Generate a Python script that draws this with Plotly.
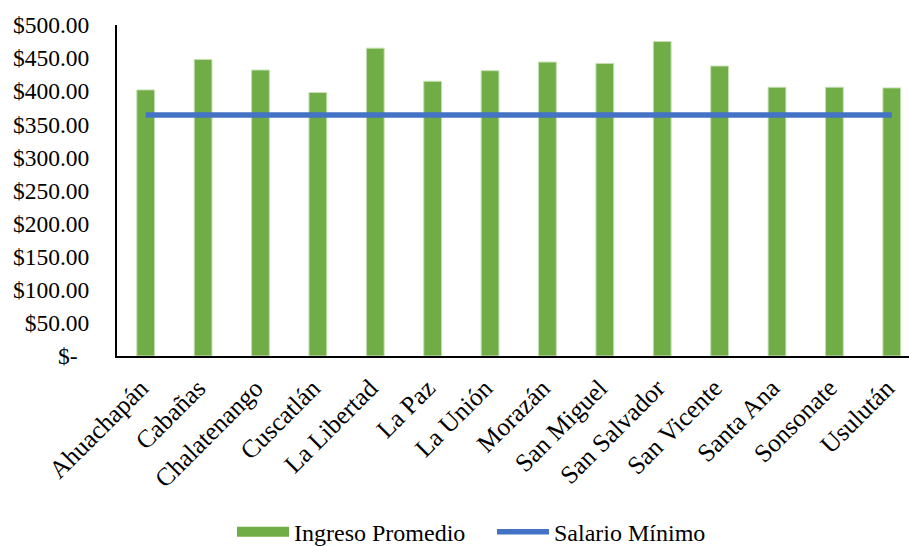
import plotly.graph_objects as go

departamentos = ["Ahuachapán", "Cabañas", "Chalatenango", "Cuscatlán", "La Libertad",
                 "La Paz", "La Unión", "Morazán", "San Miguel", "San Salvador",
                 "San Vicente", "Santa Ana", "Sonsonate", "Usulután"]
ingreso_promedio = [402, 448, 432, 398, 465, 415, 431, 444, 442, 475, 438, 406, 406, 405]
salario_minimo = [364] * len(departamentos)

y_ticks = [0, 50, 100, 150, 200, 250, 300, 350, 400, 450, 500]
y_tick_text = ["$-\u00a0\u00a0"] + [f"${v:.2f}" for v in y_ticks[1:]]

SERIF = "Liberation Serif"
font = dict(family=SERIF, size=23.5, color="#000000")
x_font = dict(family=SERIF, size=25.5, color="#000000")
legend_font = dict(family=SERIF, size=24, color="#000000")

GREEN = "#70AD47"
BLUE = "#4472C4"

fig = go.Figure()
fig.add_trace(go.Bar(
    x=departamentos, y=ingreso_promedio, name="Ingreso Promedio",
    marker=dict(color=GREEN, line=dict(color="#C5E0B4", width=1)),
    width=0.31, showlegend=False,
))
# wide swatch for the bar series in the legend
fig.add_trace(go.Scatter(
    x=[None], y=[None], name="Ingreso Promedio", mode="lines",
    line=dict(color=GREEN, width=10), showlegend=True,
))
fig.add_trace(go.Scatter(
    x=departamentos, y=salario_minimo, name="Salario Mínimo",
    mode="lines", line=dict(color=BLUE, width=5.5),
))

fig.update_layout(
    width=909, height=546,
    margin=dict(l=117, r=0, t=25, b=190, autoexpand=False),
    paper_bgcolor="white", plot_bgcolor="white",
    font=font,
    showlegend=True,
    legend=dict(orientation="h", xref="container", x=232 / 909, xanchor="left",
                yref="paper", y=-0.532, yanchor="middle",
                font=legend_font, traceorder="normal",
                itemwidth=52, entrywidth=193, entrywidthmode="pixels",
                bgcolor="rgba(0,0,0,0)"),
    bargap=0.69,
)
fig.update_xaxes(
    range=[-0.5, 13.3], tickangle=-45, showline=True, linecolor="#000000", linewidth=2,
    showgrid=False, ticks="", tickfont=x_font, ticklabelstandoff=5, ticklabelshift=-5,
)
fig.update_yaxes(
    range=[0, 500], tickvals=y_ticks, ticktext=y_tick_text, showline=True,
    linecolor="#000000", linewidth=2, showgrid=False, zeroline=False, ticks="",
    tickfont=font, ticklabelstandoff=21,
)

fig.write_html("out.html")
